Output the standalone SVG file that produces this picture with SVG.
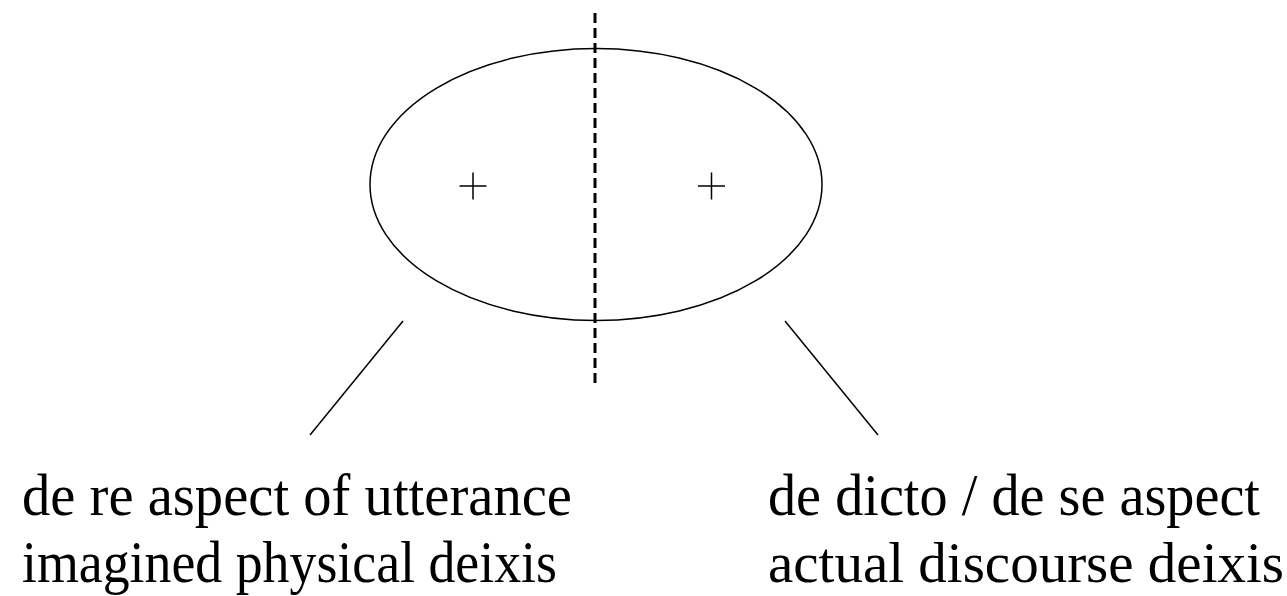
<svg xmlns="http://www.w3.org/2000/svg" width="1287" height="596" viewBox="0 0 1287 596">
<style>
.s{fill:none;stroke:#000;stroke-width:1.5}
.d{fill:none;stroke:#000;stroke-width:3;stroke-dasharray:10 5}
.t{font-family:"Liberation Serif","Times New Roman",serif;font-size:59px;fill:#000}
</style>
<rect width="1287" height="596" fill="#fff"/>
<g id="ellipse-node">
<ellipse class="s" cx="596" cy="184.5" rx="226" ry="136"/>
</g>
<g id="plus-left">
<path class="s" d="M459.5 186H486.5M473 172.5V199.5"/>
</g>
<g id="plus-right">
<path class="s" d="M698 186H725M711.5 172.5V199.5"/>
</g>
<g id="divider">
<line class="d" x1="595" y1="13" x2="595" y2="383"/>
</g>
<g id="connectors">
<line class="s" x1="403" y1="321" x2="310" y2="435"/>
<line class="s" x1="785" y1="321" x2="878" y2="435"/>
</g>
<g id="label-left">
<text class="t" x="22" y="515" textLength="550" lengthAdjust="spacingAndGlyphs">de re aspect of utterance</text>
<text class="t" x="22" y="582" textLength="535" lengthAdjust="spacingAndGlyphs">imagined physical deixis</text>
</g>
<g id="label-right">
<text class="t" x="768" y="515" textLength="492" lengthAdjust="spacingAndGlyphs">de dicto / de se aspect</text>
<text class="t" x="768" y="582" style="font-size:57px">actual discourse deixis</text>
</g>
</svg>
